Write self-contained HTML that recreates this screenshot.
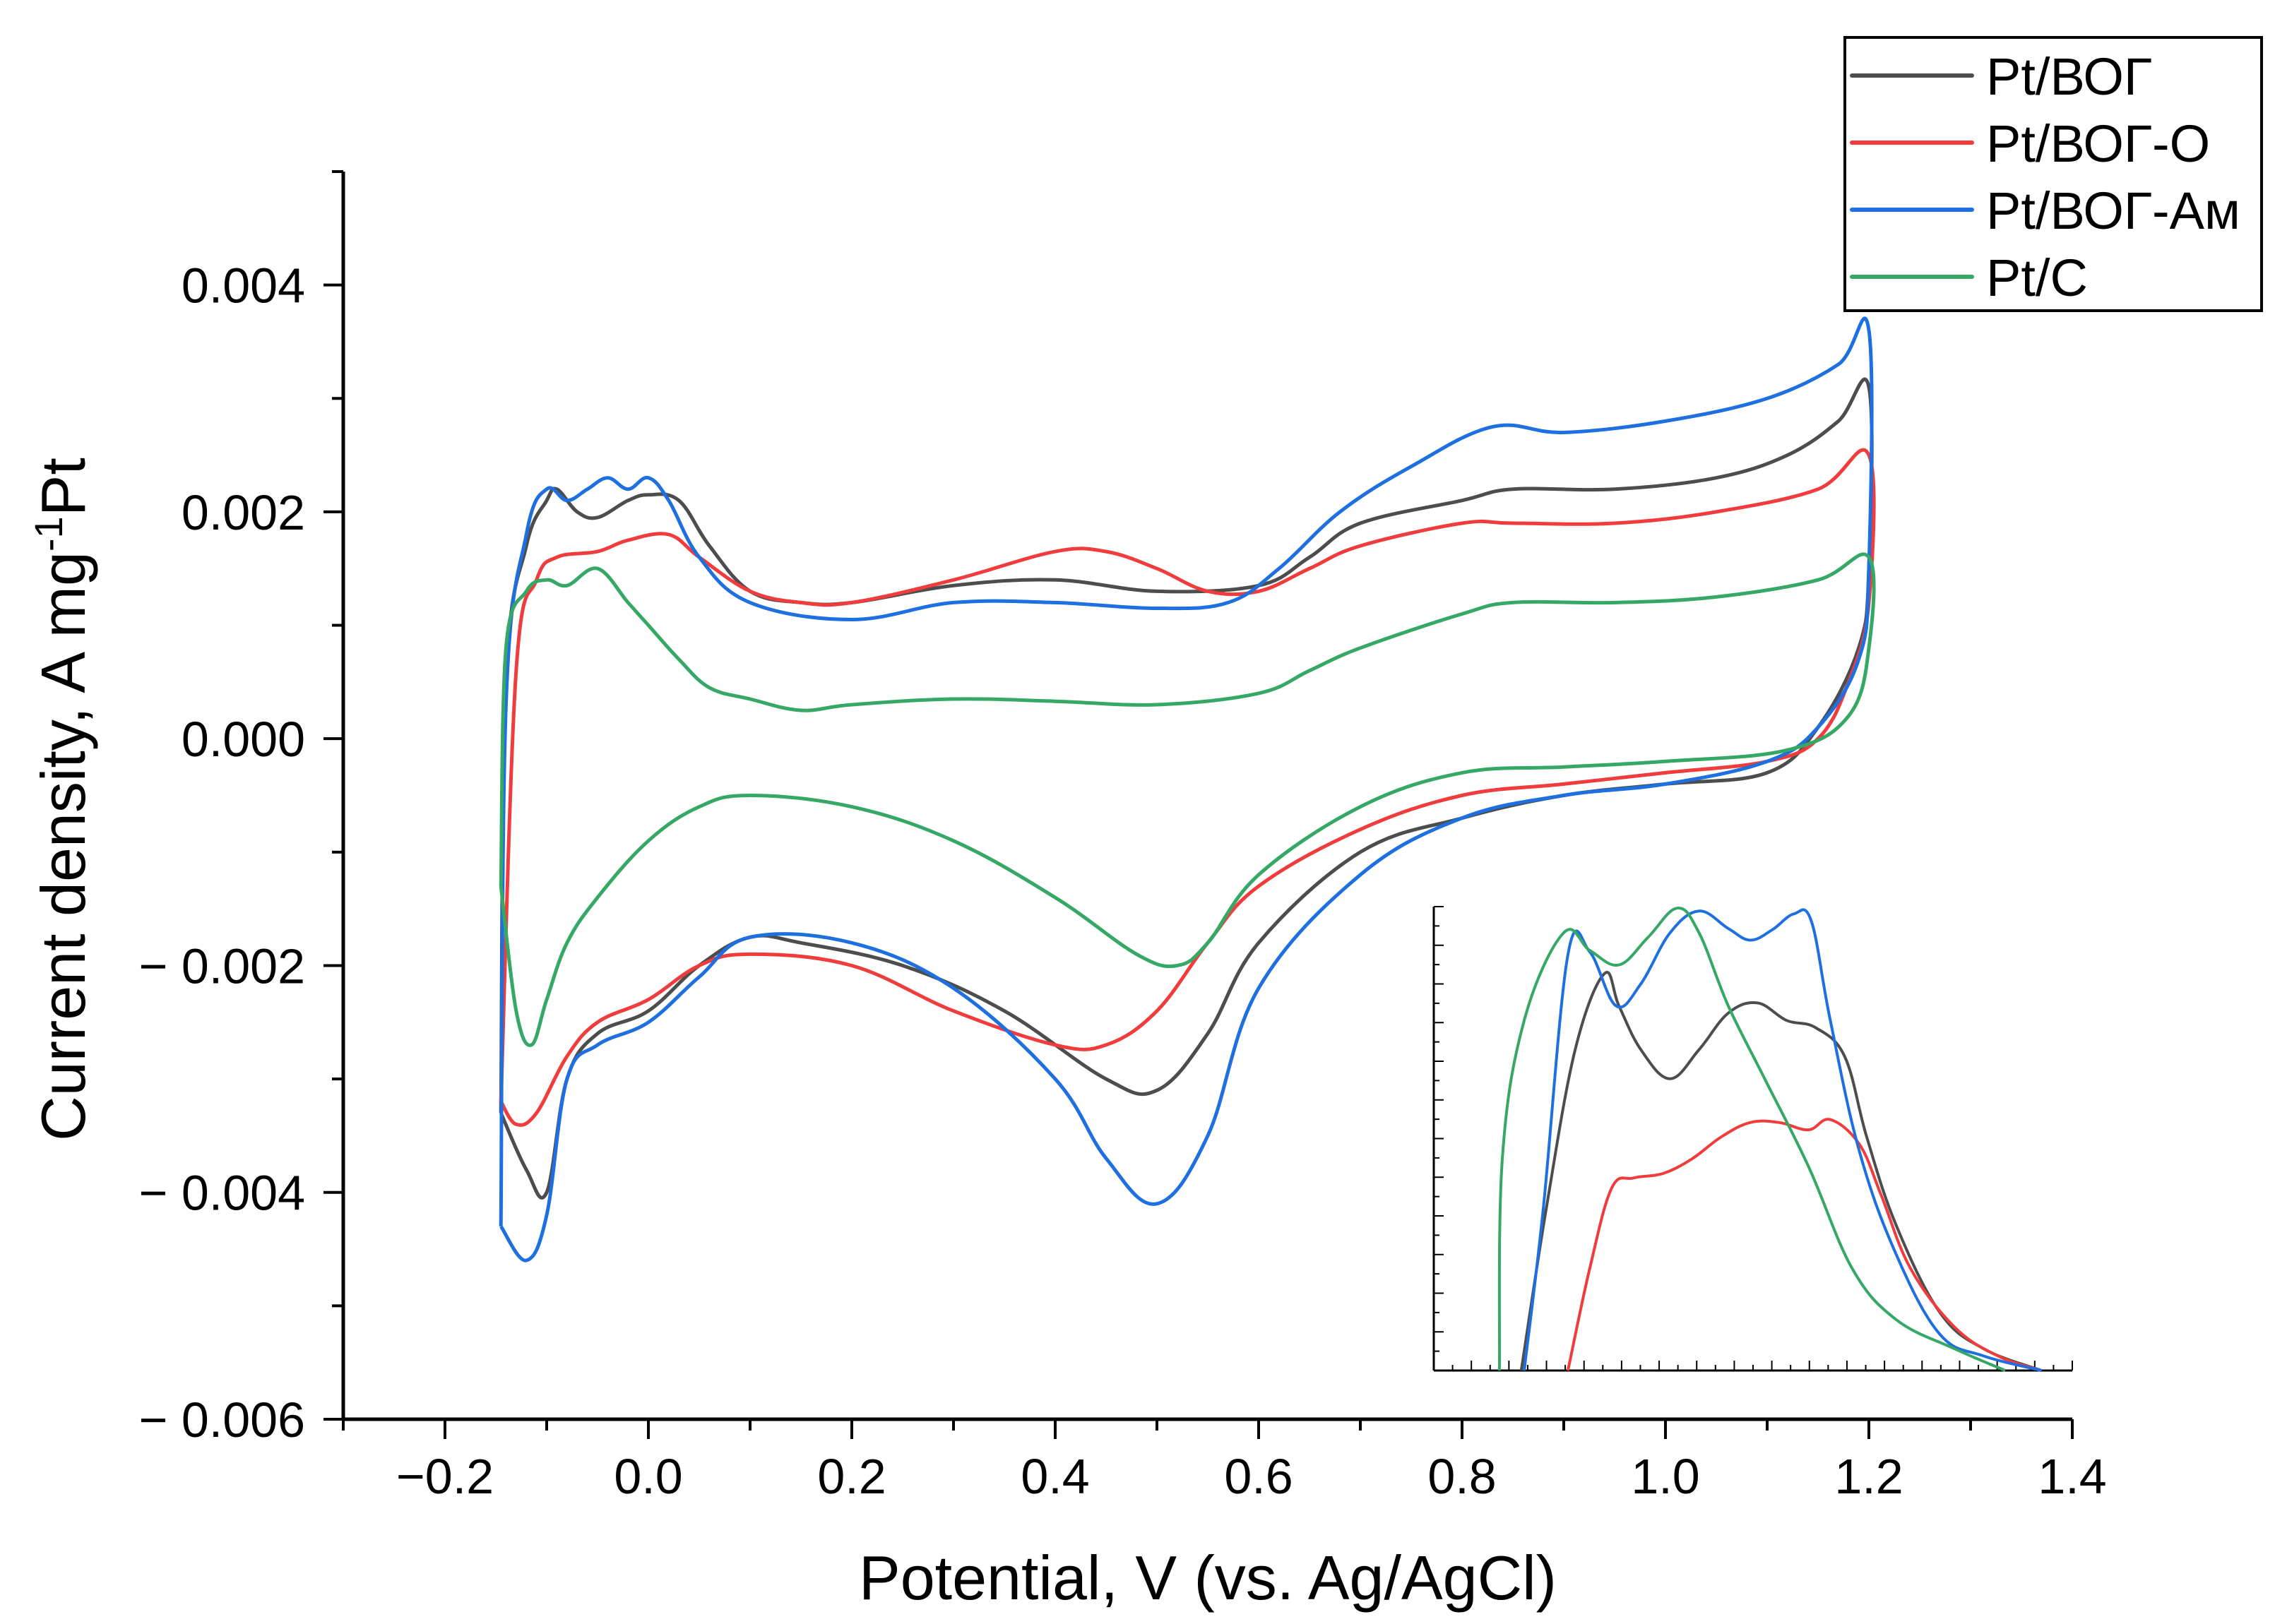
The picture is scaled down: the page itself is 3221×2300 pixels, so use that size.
<!DOCTYPE html>
<html><head><meta charset="utf-8"><style>
html,body{margin:0;padding:0;background:#fff}
svg{display:block}
text{font-family:"Liberation Sans",sans-serif;fill:#000}
</style></head><body>
<svg id="chart" width="3221" height="2300" viewBox="0 0 3221 2300" xmlns="http://www.w3.org/2000/svg">
<g id="axes"></g>
<g id="series"></g>
<g id="inset"></g>
<g id="legend"></g>
</svg>
<script>
const xTicks=[-0.2,0.0,0.2,0.4,0.6,0.8,1.0,1.2,1.4];
const xTickLabels=["\u22120.2","0.0","0.2","0.4","0.6","0.8","1.0","1.2","1.4"];
const yTicks=[0.004,0.002,0.000,-0.002,-0.004,-0.006];
const yTickLabels=["0.004","0.002","0.000","\u2212 0.002","\u2212 0.004","\u2212 0.006"];
const seriesNames=["Pt/ВОГ","Pt/ВОГ-О","Pt/ВОГ-Ам","Pt/C"];
const seriesColors=["#4d4d4d","#f03c3c","#1e6fe0","#35a865"];
const blackV=[-0.145,-0.14,-0.12,-0.1,-0.09,-0.07,-0.05,-0.02,0.0,0.03,0.06,0.1,0.15,0.2,0.3,0.4,0.5,0.6,0.65,0.7,0.8,0.85,0.95,1.05,1.12,1.17,1.2,1.2,1.19,1.15,1.1,1.0,0.9,0.8,0.7,0.6,0.55,0.5,0.45,0.35,0.25,0.15,0.1,0.05,0.0,-0.05,-0.08,-0.1,-0.12,-0.145];
const blackJ=[-0.0033,0.0005,0.0017,0.0021,0.0022,0.002,0.00195,0.0021,0.00215,0.0021,0.0017,0.0013,0.0012,0.0012,0.00135,0.0014,0.0013,0.00135,0.0016,0.0019,0.0021,0.0022,0.0022,0.0023,0.0025,0.0028,0.0031,0.0015,0.0008,0.0001,-0.0003,-0.0004,-0.0005,-0.0007,-0.001,-0.0018,-0.0026,-0.0031,-0.003,-0.0024,-0.002,-0.0018,-0.00175,-0.002,-0.0024,-0.0026,-0.003,-0.004,-0.0038,-0.0033];
const redV=[-0.145,-0.13,-0.11,-0.09,-0.05,-0.02,0.02,0.05,0.1,0.15,0.2,0.3,0.4,0.45,0.5,0.55,0.6,0.65,0.7,0.8,0.85,0.95,1.05,1.15,1.2,1.2,1.18,1.15,1.1,1.0,0.9,0.8,0.7,0.6,0.55,0.5,0.45,0.4,0.3,0.2,0.1,0.05,0.0,-0.05,-0.08,-0.11,-0.13,-0.145];
const redJ=[-0.0032,0.0006,0.0014,0.0016,0.00165,0.00175,0.0018,0.0016,0.0013,0.0012,0.0012,0.0014,0.00165,0.00165,0.0015,0.0013,0.0013,0.0015,0.0017,0.0019,0.0019,0.0019,0.002,0.0022,0.0025,0.0012,0.0005,0.0,-0.0002,-0.0003,-0.0004,-0.0005,-0.0008,-0.0013,-0.0018,-0.0024,-0.0027,-0.0027,-0.0024,-0.002,-0.0019,-0.002,-0.0023,-0.0025,-0.0028,-0.0033,-0.0034,-0.0032];
const blueV=[-0.145,-0.14,-0.12,-0.1,-0.08,-0.06,-0.04,-0.02,0.0,0.02,0.05,0.1,0.2,0.3,0.4,0.5,0.57,0.62,0.68,0.75,0.83,0.9,1.0,1.1,1.17,1.2,1.2,1.19,1.15,1.1,1.0,0.9,0.8,0.7,0.6,0.55,0.5,0.45,0.4,0.3,0.2,0.1,0.05,0.0,-0.05,-0.08,-0.1,-0.12,-0.145];
const blueJ=[-0.0043,0.0003,0.0018,0.0022,0.0021,0.0022,0.0023,0.0022,0.0023,0.0021,0.0016,0.0012,0.00105,0.0012,0.0012,0.00115,0.0012,0.0015,0.002,0.0024,0.00275,0.0027,0.0028,0.003,0.0033,0.0036,0.0015,0.0007,0.0001,-0.0002,-0.0004,-0.0005,-0.0007,-0.0012,-0.0022,-0.0035,-0.0041,-0.0037,-0.003,-0.0022,-0.0018,-0.00175,-0.0021,-0.0025,-0.0027,-0.003,-0.0042,-0.0046,-0.0043];
const greenV=[-0.145,-0.14,-0.12,-0.1,-0.08,-0.05,-0.02,0.0,0.03,0.06,0.1,0.15,0.2,0.3,0.4,0.5,0.6,0.65,0.7,0.8,0.85,0.95,1.05,1.15,1.2,1.2,1.18,1.12,1.0,0.9,0.8,0.7,0.6,0.55,0.52,0.48,0.4,0.3,0.2,0.1,0.05,0.0,-0.05,-0.08,-0.1,-0.115,-0.13,-0.145];
const greenJ=[-0.0013,0.0008,0.0013,0.0014,0.00135,0.0015,0.0012,0.001,0.0007,0.00045,0.00035,0.00025,0.0003,0.00035,0.00033,0.0003,0.0004,0.0006,0.0008,0.0011,0.0012,0.0012,0.00125,0.0014,0.0016,0.0008,0.0002,-0.0001,-0.0002,-0.00025,-0.0003,-0.0006,-0.0012,-0.0018,-0.002,-0.0019,-0.0014,-0.0009,-0.0006,-0.0005,-0.0006,-0.0009,-0.0014,-0.0018,-0.0023,-0.0027,-0.0024,-0.0013];
// inset (arbitrary units)
const insBlackX=[60,77,97,117,127,142,162,182,202,222,242,262,282,297,317,347,377,417];
const insBlackY=[0,110,220,272,250,220,200,220,245,252,240,235,215,160,100,40,15,0];
const insRedX=[92,107,122,137,157,177,197,217,237,257,272,292,307,327,357,387,417];
const insRedY=[0,70,125,132,135,145,160,170,170,165,172,155,120,70,30,10,0];
const insBlueX=[62,75,92,107,125,142,162,182,202,217,232,247,259,272,292,317,347,377,417];
const insBlueY=[0,110,285,287,250,265,300,315,303,295,302,313,308,240,150,80,25,10,0];
const insGreenX=[45,47,62,89,107,127,147,167,182,202,227,257,287,317,357,392];
const insGreenY=[0,145,240,300,288,278,297,317,300,250,200,140,70,35,15,0];

const NS="http://www.w3.org/2000/svg";
function mk(tag,attrs,parent){const e=document.createElementNS(NS,tag);for(const k in attrs)e.setAttribute(k,attrs[k]);parent.appendChild(e);return e;}
function smooth(p){let d='M'+p[0][0].toFixed(1)+','+p[0][1].toFixed(1);
 for(let i=0;i<p.length-1;i++){const p0=p[Math.max(0,i-1)],p1=p[i],p2=p[i+1],p3=p[Math.min(p.length-1,i+2)];
  const t=0.18;
  const c1=[p1[0]+(p2[0]-p0[0])*t,p1[1]+(p2[1]-p0[1])*t],c2=[p2[0]-(p3[0]-p1[0])*t,p2[1]-(p3[1]-p1[1])*t];
  d+=' C'+c1[0].toFixed(1)+','+c1[1].toFixed(1)+' '+c2[0].toFixed(1)+','+c2[1].toFixed(1)+' '+p2[0].toFixed(1)+','+p2[1].toFixed(1);}
 return d;}
const X0=486,X1=2934,Y0=2010,Y1=243;
const xs=v=>X0+(v+0.3)/1.7*(X1-X0);
const ys=j=>Y0-(j+0.006)/0.011*(Y0-Y1);
const axes=document.getElementById('axes');
let e;
e=mk('line',{x1:X0,y1:Y0,x2:X1,y2:Y0,stroke:'#000','stroke-width':5},axes);


e=mk('line',{x1:X0,y1:Y0+2,x2:X0,y2:Y1,stroke:'#000','stroke-width':5},axes);


for(let v=-0.3;v<=1.401;v+=0.1){const major=Math.abs(Math.round(v*10)%2)===0;
 e=mk('line',{x1:xs(v),y1:Y0,x2:xs(v),y2:Y0+(major?28:16),stroke:'#000','stroke-width':4},axes);
 
 }
xTicks.forEach((v,i)=>{e=mk('text',{x:xs(v),y:Y0+105,'font-size':70,'text-anchor':'middle'},axes);e.textContent=xTickLabels[i];
 
 });
for(let j=-0.006;j<=0.0050001;j+=0.001){const major=Math.abs(Math.round(j*1000)%2)===0;
 e=mk('line',{x1:X0,y1:ys(j),x2:X0-(major?28:16),y2:ys(j),stroke:'#000','stroke-width':4},axes);
 
 }
yTicks.forEach((v,i)=>{e=mk('text',{x:432,y:ys(v)+25,'font-size':70,'text-anchor':'end'},axes);e.textContent=yTickLabels[i];
 
 });
e=mk('text',{x:1710,y:2265,'font-size':88,'text-anchor':'middle'},axes);e.textContent='Potential, V (vs. Ag/AgCl)';


e=mk('text',{x:0,y:0,'font-size':88,'text-anchor':'middle',transform:'translate(120,1132) rotate(-90)'},axes);
e.innerHTML='Current density, A mg<tspan dy="-32" font-size="56">-1</tspan><tspan dy="32">Pt</tspan>';



const series=document.getElementById('series');
const data=[[blackV,blackJ],[redV,redJ],[blueV,blueJ],[greenV,greenJ]];
const snames=['cv-pt-vog','cv-pt-vog-o','cv-pt-vog-am','cv-pt-c'];
data.forEach((d,i)=>{const pts=d[0].map((v,k)=>[xs(v),ys(d[1][k])]);
 e=mk('path',{d:smooth(pts),fill:'none',stroke:seriesColors[i],'stroke-width':5,'stroke-linejoin':'round'},series);
 
 });

// inset
const inset=document.getElementById('inset');
const IX0=2030,IX1=2934,IY0=1941,IY1=1284;
const ixs=u=>IX0+u/438*(IX1-IX0), iys=u=>IY0-u/318*(IY0-IY1);
e=mk('line',{x1:IX0,y1:IY0,x2:IX1,y2:IY0,stroke:'#000','stroke-width':3},inset);


e=mk('line',{x1:IX0,y1:IY0,x2:IX0,y2:IY1,stroke:'#000','stroke-width':3},inset);


for(let k=0;k<=24;k++){const yy=IY0-k*(IY0-IY1)/24;
 e=mk('line',{x1:IX0,y1:yy,x2:IX0+(k%2?8:14),y2:yy,stroke:'#000','stroke-width':2},inset);
 
 }
for(let k=0;k<=34;k++){const xx=IX0+k*(IX1-IX0)/34;
 e=mk('line',{x1:xx,y1:IY0,x2:xx,y2:IY0-(k%2?8:14),stroke:'#000','stroke-width':2},inset);
 
 }
const idata=[[insBlackX,insBlackY],[insRedX,insRedY],[insBlueX,insBlueY],[insGreenX,insGreenY]];
idata.forEach((d,i)=>{const pts=d[0].map((u,k)=>[ixs(u),iys(d[1][k])]);
 e=mk('path',{d:smooth(pts),fill:'none',stroke:seriesColors[i],'stroke-width':4,'stroke-linejoin':'round'},inset);
 
 });

// legend
const lg=document.getElementById('legend');
e=mk('rect',{x:2612,y:53,width:590,height:387,fill:'#fff',stroke:'#000','stroke-width':4},lg);


seriesNames.forEach((n,i)=>{const yy=107+i*95;
 e=mk('line',{x1:2622,y1:yy,x2:2792,y2:yy,stroke:seriesColors[i],'stroke-width':6,'stroke-linecap':'round'},lg);
 
 
 e=mk('text',{x:2812,y:yy+27,'font-size':74},lg);e.textContent=n;
 
 });
</script>
</body></html>
